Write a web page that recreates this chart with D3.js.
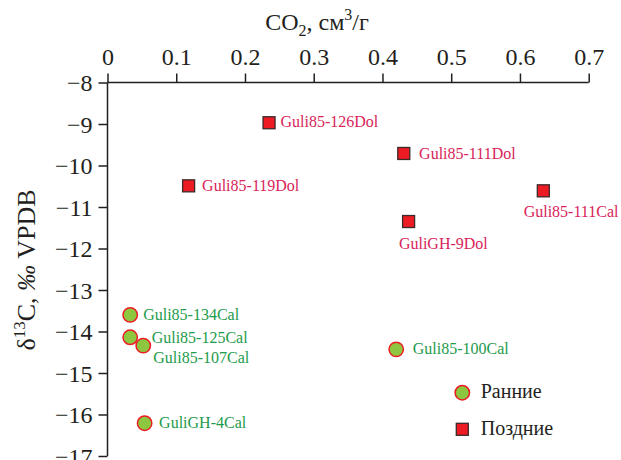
<!DOCTYPE html>
<html><head><meta charset="utf-8">
<script src="https://cdn.jsdelivr.net/npm/d3@7"></script>
<style>
html,body{margin:0;padding:0;background:#fff;}
</style></head>
<body><svg id="c" width="621" height="460"></svg>
<script>
// ---- data ----
const xTicks = [0, 0.1, 0.2, 0.3, 0.4, 0.5, 0.6, 0.7];
const yTicks = [-8, -9, -10, -11, -12, -13, -14, -15, -16, -17];

const earlyNames = ["Guli85-134Cal", "Guli85-125Cal", "Guli85-107Cal", "GuliGH-4Cal", "Guli85-100Cal"];
const earlyCO2   = [0.033, 0.033, 0.052, 0.054, 0.420];
const earlyD13C  = [-13.60, -14.14, -14.34, -16.21, -14.43];

const lateNames = ["Guli85-126Dol", "Guli85-119Dol", "Guli85-111Dol", "Guli85-111Cal", "GuliGH-9Dol"];
const lateCO2   = [0.235, 0.118, 0.431, 0.634, 0.438];
const lateD13C  = [-8.97, -10.49, -9.71, -10.61, -11.35];

const legendLabels = ["Ранние", "Поздние"];

// label offsets in pixels (layout only)
const earlyLabelOffsets = [[13, 5], [21.5, 6], [10, 17], [14.5, 5], [16.5, 4.7]];
const lateLabelOffsets  = [[11.5, 4.3], [13.5, 4.7], [15.3, 5.7], [-19.7, 26.3], [-9.7, 27.3]];

// ---- drawing ----
const FONT = '"Liberation Serif","Times New Roman",serif';
const svg = d3.select("#c").style("font-family", FONT);
const ink = "#231f20";
const x = d3.scaleLinear().domain([0, 0.7]).range([107.5, 588.7]);
const y = d3.scaleLinear().domain([-8, -17]).range([82.5, 456]);

const fmtMinus = v => (v < 0 ? "\u2212" + Math.abs(v) : String(v));

const xAxis = svg.append("g").attr("transform", `translate(0,${y(-8)})`)
  .call(d3.axisTop(x).tickValues(xTicks).tickSize(9).tickPadding(9).tickFormat(d => d === 0 ? "0" : String(d)));
const yAxis = svg.append("g").attr("transform", `translate(${x(0)},0)`)
  .call(d3.axisLeft(y).tickValues(yTicks).tickSize(9).tickPadding(6).tickFormat(fmtMinus));
[xAxis, yAxis].forEach(g => {
  g.attr("font-family", FONT).attr("font-size", 24);
  g.select(".domain").attr("stroke", ink).attr("stroke-width", 1.5);
  g.selectAll(".tick line").attr("stroke", ink).attr("stroke-width", 1.5);
  g.selectAll(".tick text").attr("fill", ink).style("font-family", FONT).style("font-size", "24px");
});
xAxis.select(".domain").attr("d", `M${x(0)},0H${x(0.7)}`);
yAxis.select(".domain").attr("d", `M0,${y(-8)}V${y(-17)}`);
yAxis.selectAll(".tick text").attr("dy", "0.34em");

// axis titles
const xt = svg.append("text").attr("x", 317).attr("y", 30).attr("text-anchor", "middle")
  .attr("fill", ink).style("font-size", "24px");
xt.append("tspan").text("CO");
xt.append("tspan").attr("dy", 6).style("font-size", "16px").text("2");
xt.append("tspan").attr("dy", -6).text(", см");
xt.append("tspan").attr("dy", -10).style("font-size", "16px").text("3");
xt.append("tspan").attr("dy", 10).text("/г");

const yt = svg.append("text").attr("transform", "translate(35,270) rotate(-90)")
  .attr("text-anchor", "middle").attr("fill", ink).style("font-size", "26px");
yt.append("tspan").text("δ");
yt.append("tspan").attr("dy", -10).style("font-size", "17px").text("13");
yt.append("tspan").attr("dy", 10).text("C, ");
yt.append("tspan").style("font-style", "italic").text("‰");
yt.append("tspan").text(" VPDB");

// colours
const greenFill = "#8dc63f", circleStroke = "#ed1c24";
const redFill = "#ed1c24", squareStroke = "#3a2a2a";
const greenText = "#1e9b4b", redText = "#d8245a";

const early = earlyNames.map((n, i) => ({n, cx: earlyCO2[i], cy: earlyD13C[i], o: earlyLabelOffsets[i]}));
const late = lateNames.map((n, i) => ({n, cx: lateCO2[i], cy: lateD13C[i], o: lateLabelOffsets[i]}));

const sq = 12;
svg.append("g").selectAll("rect").data(late).join("rect")
  .attr("x", d => x(d.cx) - sq / 2).attr("y", d => y(d.cy) - sq / 2)
  .attr("width", sq).attr("height", sq)
  .attr("fill", redFill).attr("stroke", squareStroke).attr("stroke-width", 1.3);
svg.append("g").selectAll("text").data(late).join("text")
  .attr("x", d => x(d.cx) + d.o[0]).attr("y", d => y(d.cy) + d.o[1])
  .attr("fill", redText).style("font-size", "16px").text(d => d.n);

svg.append("g").selectAll("circle").data(early).join("circle")
  .attr("cx", d => x(d.cx)).attr("cy", d => y(d.cy)).attr("r", 7.2)
  .attr("fill", greenFill).attr("stroke", circleStroke).attr("stroke-width", 1.5);
svg.append("g").selectAll("text").data(early).join("text")
  .attr("x", d => x(d.cx) + d.o[0]).attr("y", d => y(d.cy) + d.o[1])
  .attr("fill", greenText).style("font-size", "16px").text(d => d.n);

// legend
const lg = svg.append("g");
lg.append("circle").attr("cx", 462.3).attr("cy", 392.7).attr("r", 7.2)
  .attr("fill", greenFill).attr("stroke", circleStroke).attr("stroke-width", 1.5);
lg.append("rect").attr("x", 462.3 - sq / 2).attr("y", 429.3 - sq / 2).attr("width", sq).attr("height", sq)
  .attr("fill", redFill).attr("stroke", squareStroke).attr("stroke-width", 1.3);
lg.selectAll("text").data(legendLabels).join("text")
  .attr("x", 480.7).attr("y", (d, i) => [397.5, 434.5][i])
  .attr("fill", ink).style("font-size", "20px").text(d => d);
</script></body></html>
